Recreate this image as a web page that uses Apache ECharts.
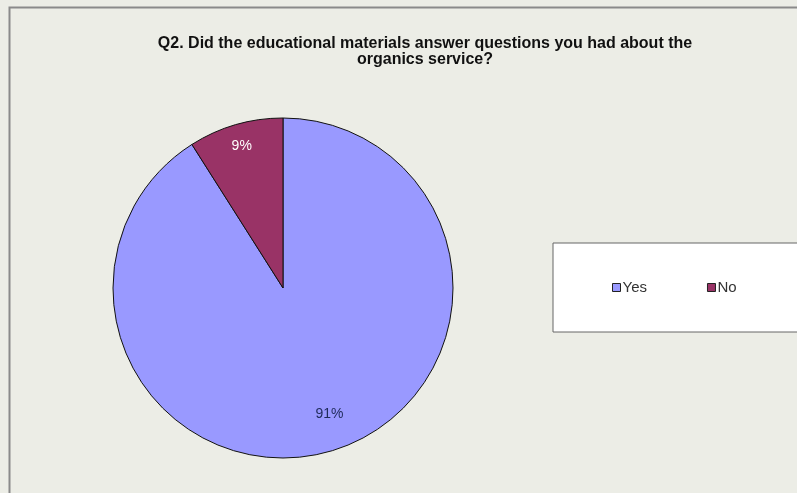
<!DOCTYPE html>
<html><head><meta charset="utf-8">
<script src="https://cdn.jsdelivr.net/npm/echarts@6/dist/echarts.min.js"></script>
<style>html,body{margin:0;padding:0;background:#ecede6;}#c{width:797px;height:493px;}</style>
</head><body><div id="c"></div>
<script>
const titleText = 'Q2. Did the educational materials answer questions you had about the\norganics service?';
const categories = ['Yes', 'No'];
const values = [91, 9];
const colors = ['#9999ff', '#993366'];
const labelColors = ['#1f2a5a', '#ffffff'];
const labelRadiusFraction = [0.79, 0.87];
const labelAngleShift = [-0.07, 0.0];

const CX = 283, CY = 288, R = 170;
const chart = echarts.init(document.getElementById('c'));
chart.setOption({
  backgroundColor: '#ecede6',
  animation: false,
  graphic: [{
    type: 'rect', shape: {x: 9.5, y: 7.5, width: 900, height: 600},
    style: {fill: 'none', stroke: '#8a8a8a', lineWidth: 2}, silent: true
  }],
  title: {
    text: titleText, left: 420, top: 31, textAlign: 'center',
    textStyle: {fontFamily: 'Liberation Sans, Arial, sans-serif', fontSize: 16, fontWeight: 'bold', color: '#111', lineHeight: 16}
  },
  legend: {
    data: categories, left: 553, top: 243, width: 240,
    orient: 'horizontal',
    backgroundColor: '#ffffff', borderColor: '#666', borderWidth: 1,
    padding: [37, 80, 37, 59], itemGap: 60,
    icon: 'rect', itemWidth: 8, itemHeight: 8,
    itemStyle: {borderColor: '#222', borderWidth: 1},
    textStyle: {fontFamily: 'Liberation Sans, Arial, sans-serif', fontSize: 15, color: '#333', padding: [0, 0, 0, -3]}
  },
  series: [{
    type: 'pie', center: [CX, CY], radius: [0, R],
    startAngle: 90, clockwise: true,
    data: categories.map((c, i) => ({name: c, value: values[i],
      itemStyle: {color: colors[i]},
      label: {color: labelColors[i]}})),
    itemStyle: {borderColor: '#111', borderWidth: 1},
    label: {show: true, position: 'inside', formatter: '{d}%',
      fontFamily: 'Liberation Sans, Arial, sans-serif', fontSize: 14},
    labelLayout: function (p) {
      const r = p.labelRect;
      const lx = r.x + r.width / 2 - CX, ly = r.y + r.height / 2 - CY;
      const a = Math.atan2(ly, lx) + labelAngleShift[p.dataIndex];
      const tr = labelRadiusFraction[p.dataIndex] * R;
      return {dx: CX + tr * Math.cos(a) - (CX + lx), dy: CY + tr * Math.sin(a) - (CY + ly)};
    },
    emphasis: {disabled: true}
  }]
});
</script></body></html>
